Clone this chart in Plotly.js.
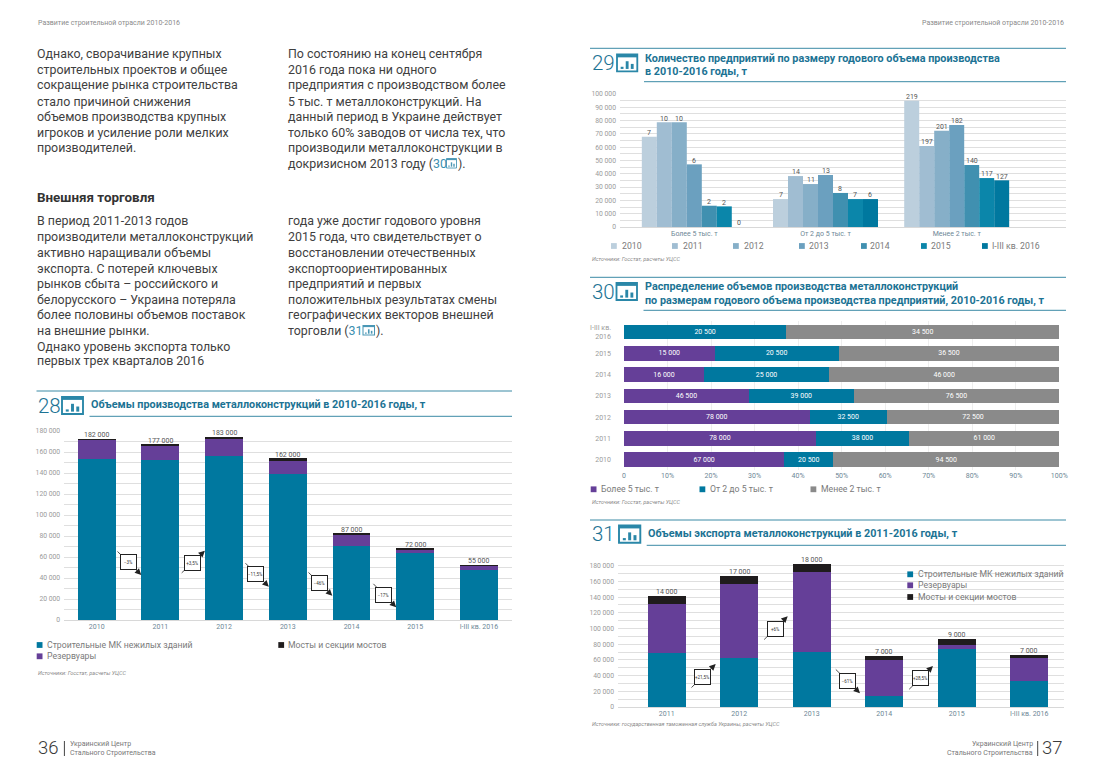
<!DOCTYPE html>
<html><head><meta charset="utf-8">
<script src="https://cdn.plot.ly/plotly-3.0.1.min.js"></script>
<style>
html,body{margin:0;padding:0;background:#fff;width:1100px;height:762px;overflow:hidden}
.layer{position:absolute;left:0;top:0;width:1100px;height:762px}
</style></head><body>
<div id="page" class="layer"></div>
<div id="c28" class="layer"></div>
<div id="c29" class="layer"></div>
<div id="c30" class="layer"></div>
<div id="c31" class="layer"></div>
<script>
// ---------- chart 28 data ----------
const years28 = ['2010','2011','2012','2013','2014','2015','I-III кв. 2016'];
const buildings28 = [153300,152400,156200,139000,70500,63800,47600];
const tanks28 = [18100,13600,15800,12400,10500,2900,3500];
const bridges28 = [1300,1600,2600,2600,1500,1600,1300];
const totals28Labels = ['182 000','177 000','183 000','162 000','87 000','72 000','55 000'];
const change28 = ['−3%','+3,5%','−11,5%','−46%','−17%'];
// ---------- chart 29 data ----------
const sizes29 = ['Более 5 тыс. т','От 2 до 5 тыс. т','Менее 2 тыс. т'];
const series29Names = ['2010','2011','2012','2013','2014','2015','I-III кв. 2016'];
const v2010 = [67900,21000,95000];
const v2011 = [78700,38300,60900];
const v2012 = [78700,32300,72400];
const v2013 = [47100,39100,76700];
const v2014 = [16000,25600,46600];
const v2015 = [15500,21000,36800];
const v2016 = [0,21000,35100];
const l2010 = ['7','7','219'];
const l2011 = ['10','14','197'];
const l2012 = ['10','11','201'];
const l2013 = ['6','13','182'];
const l2014 = ['2','8','140'];
const l2015 = ['2','7','117'];
const l2016 = ['0','6','127'];
// ---------- chart 30 data ----------
const years30 = ['2010','2011','2012','2013','2014','2015','I-III кв.<br>2016'];
const over5 = [67000,78000,78000,46500,16000,15000,0];
const from2to5 = [20500,38000,32500,39000,25000,20500,20500];
const under2 = [94500,61000,72500,76500,46000,36500,34500];
// ---------- chart 31 data ----------
const years31 = ['2011','2012','2013','2014','2015','I-III кв. 2016'];
const buildings31 = [68300,62000,70000,14000,73900,33500];
const tanks31 = [63300,95000,101500,45900,5500,28500];
const bridges31 = [9800,9800,10200,4600,7600,4600];
const totals31Labels = ['14 000','17 000','18 000','7 000','9 000','7 000'];
const change31 = ['+21,5%','+6%','−61%','+28,5%'];
const legendNames = ['Строительные МК нежилых зданий','Резервуары','Мосты и секции мостов'];

const W=1100,H=762;
const BLUE='#00789f',PURPLE='#653f98',BLACK='#1f1c1d',GREY='#8a8a8a';
const HEAD='#1c7394',RULE='#3b8aa5',TICK='#9b9b9b',XTICK='#6e8796',GRID='#dfdfdf';
const F='Roboto, sans-serif';
const blues=['#bccfdd','#a0bdd2','#86afc8','#6ba0bf','#4090b0','#0b86aa','#00789f'];
const X=x=>x/W, Y=y=>1-y/H;
const fmt=v=>String(v).replace(/\B(?=(\d{3})+$)/g,' ');
const sumUp=(...a)=>a[0].map((_,i)=>a.reduce((s,r)=>s+r[i],0));

function ann(text,x,y,o={}){
  return {xref:'paper',yref:'paper',x:X(x),y:Y(y),text,showarrow:false,
    xanchor:o.anchor||'left',yanchor:'middle',borderpad:0,
    font:{family:o.family||F,size:o.size||10,color:o.color||'#444',weight:o.weight||400,style:o.style||'normal'}};
}
function rect(x0,y0,x1,y1,fill,line,lw){
  return {type:'rect',xref:'paper',yref:'paper',x0:X(x0),x1:X(x1),y0:Y(y0),y1:Y(y1),
    fillcolor:fill,line:{color:line||fill,width:lw||0}};
}
function hline(y,x0,x1,c,w){
  return {type:'line',xref:'paper',yref:'paper',x0:X(x0),x1:X(x1),y0:Y(y),y1:Y(y),line:{color:c||RULE,width:w||1}};
}
function icon(x0,y0,x1,y1,c){
  c=c||'#2a87a8';
  const w=x1-x0,h=y1-y0,lw=Math.max(0.8,w*0.09),base=y1-h*0.14;
  return [
    rect(x0,y0,x1,y1,'#fff',c,lw),
    rect(x0,y0,x1,y0+h*0.17,c),
    rect(x0+w*0.18,base-h*0.13,x0+w*0.32,base,c),
    rect(x0+w*0.43,base-h*0.46,x0+w*0.57,base,c),
    rect(x0+w*0.68,base-h*0.30,x0+w*0.82,base,c)
  ];
}
function callout(text,tail,head,box){
  return [
    {xref:'paper',yref:'paper',x:X(head[0]),y:Y(head[1]),ax:tail[0]-head[0],ay:tail[1]-head[1],
     axref:'pixel',ayref:'pixel',text:' ',font:{size:1},showarrow:true,arrowhead:2,arrowsize:1.6,arrowwidth:0.8,arrowcolor:'#222',standoff:0},
    {xref:'paper',yref:'paper',x:X(box[0]),y:Y(box[1]),text,showarrow:false,width:15,height:14,
     bgcolor:'#fff',bordercolor:'#222',borderwidth:1,borderpad:0,xanchor:'center',yanchor:'middle',
     font:{family:F,size:4.5,color:'#333'}}
  ];
}
function header(num,numX,numY,ic,titleLines,titleX,topY,underY,x0,x1){
  const a=[ann(num,numX,numY,{size:20.5,color:HEAD,weight:300})];
  titleLines.forEach(t=>a.push(ann(t[0],titleX,t[1],{size:10.8,weight:700,color:HEAD})));
  const s=[hline(topY,x0,x1),hline(underY,titleX,x1)].concat(icon(...ic));
  return {a,s};
}
function legendItems(items,size){
  const a=[],s=[];
  items.forEach(it=>{
    s.push(rect(it.sx,it.y-2.9,it.sx+5.8,it.y+2.9,it.c));
    a.push(ann(it.t,it.tx,it.y,{size:size||8.7,color:'#7a7a7a'}));
  });
  return {a,s};
}
// value label sitting just above a bar top, placed through the chart's own scales
function barLabel(xPos,yVal,text,shift){
  return {xref:'x',yref:'y',x:xPos,y:yVal,text,showarrow:false,yshift:shift,xanchor:'center',yanchor:'middle',borderpad:0,
    font:{family:F,size:7,color:'#555'}};
}
const common=(ann,shp)=>({width:W,height:H,margin:{l:0,r:0,t:0,b:0,pad:0},paper_bgcolor:'rgba(0,0,0,0)',plot_bgcolor:'rgba(0,0,0,0)',
  showlegend:false,hovermode:false,annotations:ann,shapes:shp,font:{family:F}});
const yAxis=(dom,range,dt,mdt)=>({domain:[Y(dom[0]),Y(dom[1])],range,dtick:dt,tick0:0,
  tickfont:{size:6.8,color:TICK,family:F},ticks:'',ticklabelstandoff:3,
  showgrid:true,gridcolor:GRID,gridwidth:1,zeroline:false,showline:false,
  tickformat:',d',minor:{dtick:mdt,tick0:0,showgrid:true,gridcolor:GRID,gridwidth:1},anchor:'x'});
const catAxis=(x0,x1,c0,pitch)=>({type:'category',domain:[X(x0),X(x1)],range:[(x0-c0)/pitch,(x1-c0)/pitch],
  tickfont:{size:7,color:XTICK,family:F},ticks:'',showgrid:false,zeroline:false,showline:true,linecolor:'#d8d8d8',linewidth:1,anchor:'y',automargin:false});
const CFG={staticPlot:true,displayModeBar:false};
const sep={separators:'. '};

// ------------------------- page layer: running text -------------------------
const BODY={size:12.4,color:'#3f3f3f'};
const col1=['Однако, сворачивание крупных','строительных проектов и общее','сокращение рынка строительства','стало причиной снижения','объемов производства крупных','игроков и усиление роли мелких','производителей.'];
const col2=['По состоянию на конец сентября','2016 года пока ни одного','предприятия с производством более','5 тыс. т металлоконструкций. На','данный период в Украине действует','только 60% заводов от числа тех, что','производили металлоконструкции в','докризисном 2013 году (<span style="color:#3b8fb0">30</span>'];
const ys1=[53.3,69.3,85,101,116.3,132.3,147.7,163.3];
const col3=['В период 2011-2013 годов','производители металлоконструкций','активно наращивали объемы','экспорта. С потерей ключевых','рынков сбыта – российского и','белорусского – Украина потеряла','более половины объемов поставок','на внешние рынки.','Однако уровень экспорта только','первых трех кварталов 2016'];
const col4=['года уже достиг годового уровня','2015 года, что свидетельствует о','восстановлении отечественных','экспортоориентированных','предприятий и первых','положительных результатах смены','географических векторов внешней','торговли (<span style="color:#3b8fb0">31</span>'];
const ys2=[220.7,236.7,252,268,283.3,299.3,314.7,330,346,360.7];
const pageAnn=[], pageShp=[];
col1.forEach((t,i)=>pageAnn.push(ann(t,36,ys1[i],BODY)));
col2.forEach((t,i)=>pageAnn.push(ann(t,287,ys1[i],BODY)));
col3.forEach((t,i)=>pageAnn.push(ann(t,36,ys2[i],BODY)));
col4.forEach((t,i)=>pageAnn.push(ann(t,287,ys2[i],BODY)));
pageAnn.push(ann('Внешняя торговля',36,197,{size:13.4,weight:700,color:'#333'}));
pageAnn.push(ann(').',457,ys1[7],BODY));
pageAnn.push(ann(').',375,ys2[7],BODY));
pageShp.push(...icon(446.5,158.5,456.5,168,'#4a97b5'));
pageShp.push(...icon(363,325.5,374.5,335,'#4a97b5'));
pageAnn.push(ann('Развитие строительной отрасли 2010-2016',36.5,23.3,{size:7,color:'#8a8a8a'}));
pageAnn.push(ann('Развитие строительной отрасли 2010-2016',1065,23.3,{size:7,color:'#8a8a8a',anchor:'right'}));
const FOOT={size:7,color:'#777'};
pageAnn.push(ann('36',36.5,748,{size:18.5,color:'#3a3a3a',weight:300}));
pageAnn.push(ann('37',1064,748,{size:18.5,color:'#3a3a3a',weight:300,anchor:'right'}));
pageAnn.push(ann('Украинский Центр',69,743.5,FOOT));
pageAnn.push(ann('Стального Строительства',69,752.7,FOOT));
pageAnn.push(ann('Украинский Центр',1034,743.5,Object.assign({anchor:'right'},FOOT)));
pageAnn.push(ann('Стального Строительства',1034,752.7,Object.assign({anchor:'right'},FOOT)));
pageShp.push({type:'line',xref:'paper',yref:'paper',x0:X(64.4),x1:X(64.4),y0:Y(741),y1:Y(756),line:{color:'#444',width:1}});
pageShp.push({type:'line',xref:'paper',yref:'paper',x0:X(1037.7),x1:X(1037.7),y0:Y(741),y1:Y(756),line:{color:'#444',width:1}});
Plotly.newPlot('page',[],Object.assign(common(pageAnn,pageShp),{paper_bgcolor:'#fff',xaxis:{visible:false},yaxis:{visible:false}}),CFG);

const SRC={size:5.5,color:'#8a8a8a',style:'italic'};
function stackTraces(cats,a,b,c,names){
  return [
    {type:'bar',name:names[0],x:cats,y:a,marker:{color:BLUE,line:{width:0}}},
    {type:'bar',name:names[1],x:cats,y:b,marker:{color:PURPLE,line:{width:0}}},
    {type:'bar',name:names[2],x:cats,y:c,marker:{color:BLACK,line:{width:0}}}
  ];
}

// ------------------------- chart 28 -------------------------
{
  const h=header('28',36.5,406,[62,397,83,414],[['Объемы производства металлоконструкций в 2010-2016 годы, т',404]],89.5,391,416.3,36.5,512);
  const l=legendItems([
    {t:legendNames[0],sx:36.7,tx:46,y:645,c:BLUE},
    {t:legendNames[1],sx:36.7,tx:46,y:656.3,c:PURPLE},
    {t:legendNames[2],sx:278.3,tx:286.7,y:645,c:BLACK}]);
  const calls=[].concat(
    callout(change28[0],[116,550],[141.3,575],[128.5,561.7]),
    callout(change28[1],[180.2,574.3],[204.9,550.7],[192,562.7]),
    callout(change28[2],[244,561.7],[268.8,586.7],[255.6,574.3]),
    callout(change28[3],[307,571],[332.3,595.7],[319.8,583.3]),
    callout(change28[4],[371.9,582.3],[396.2,607.3],[383.4,594.7]));
  const tot=sumUp(buildings28,tanks28,bridges28);
  const labs=totals28Labels.map((t,i)=>barLabel(i,tot[i],t,3.5));
  const layout=common([...h.a,...l.a,ann('Источники: Госстат, расчеты УЦСС',36.5,673.3,SRC),...calls,...labs],[...h.s,...l.s]);
  Object.assign(layout,{barmode:'stack',bargap:0.405,xaxis:catAxis(64.2,512,96.7,63.7),yaxis:yAxis([620,431],[0,180000],20000,10000)},sep);
  Plotly.newPlot('c28',stackTraces(years28,buildings28,tanks28,bridges28,legendNames),layout,CFG);
}

// ------------------------- chart 29 -------------------------
{
  const h=header('29',590.7,63,[617,54.5,637.3,71.3],[['Количество предприятий по размеру годового объема производства',58],['в 2010-2016 годы, т',71.3]],644,48.3,81.7,590,1066);
  const lx=[[611,620.7],[672,682],[733,743],[799,808],[861,869],[921,930],[982,991]];
  const l=legendItems(series29Names.map((t,i)=>({t,sx:lx[i][0],tx:lx[i][1],y:246,c:blues[i]})));
  const vals=[v2010,v2011,v2012,v2013,v2014,v2015,v2016], labs=[l2010,l2011,l2012,l2013,l2014,l2015,l2016];
  const traces=vals.map((v,i)=>({type:'bar',name:series29Names[i],x:sizes29,y:v,marker:{color:blues[i],line:{width:0}}}));
  const barW=0.8/7, lab=[];
  vals.forEach((v,s)=>v.forEach((d,c)=>lab.push(barLabel(c+(s-3)*barW,d,labs[s][c],3.7))));
  const layout=common([...h.a,...l.a,ann('Источники: Госстат, расчеты УЦСС',591,258.5,SRC),...lab],[...h.s,...l.s]);
  Object.assign(layout,{barmode:'group',bargap:0.2,bargroupgap:0,xaxis:catAxis(620,1066,694.3,131.2),yaxis:yAxis([227,94],[0,100000],10000,5000)},sep);
  Plotly.newPlot('c29',traces,layout,CFG);
}

// ------------------------- chart 30 -------------------------
{
  const h=header('30',590.7,291.7,[616.5,283,637,300],[['Распределение объемов производства металлоконструкций',286.7],['по размерам годового объема производства предприятий, 2010-2016 годы, т',300]],643.5,277.3,310.3,590,1066);
  const names=['Более 5 тыс. т','От 2 до 5 тыс. т','Менее 2 тыс. т'];
  const l=legendItems([
    {t:names[0],sx:590.7,tx:600,y:489.3,c:PURPLE},
    {t:names[1],sx:699.5,tx:709,y:489.3,c:BLUE},
    {t:names[2],sx:810.5,tx:820,y:489.3,c:GREY}]);
  const mk=(v,i,c)=>({type:'bar',orientation:'h',name:names[i],y:years30,x:v,text:v.map(d=>d?fmt(d):''),textposition:'inside',
    insidetextanchor:'middle',textangle:0,constraintext:'none',textfont:{family:F,size:7,color:'#fff'},marker:{color:c,line:{width:0}}});
  const layout=common([...h.a,...l.a,ann('Источники: Госстат, расчеты УЦСС',591,501.7,SRC)],[...h.s,...l.s]);
  Object.assign(layout,{barmode:'stack',barnorm:'percent',bargap:0.31,
    xaxis:{domain:[X(624),X(1059.3)],range:[0,100],tickvals:[0,10,20,30,40,50,60,70,80,90,100],
      ticktext:['0','10%','20%','30%','40%','50%','60%','70%','80%','90%','100%'],tickfont:{size:7,color:XTICK,family:F},
      showgrid:true,gridcolor:'#eeeeee',zeroline:false,showline:false,ticks:'',anchor:'y'},
    yaxis:{type:'category',domain:[Y(470.3),Y(321.4)],range:[-0.5,6.5],tickfont:{size:7,color:TICK,family:F},ticks:'',
      ticklabelstandoff:12,showgrid:false,zeroline:false,showline:false,anchor:'x'}});
  Plotly.newPlot('c30',[mk(over5,0,PURPLE),mk(from2to5,1,BLUE),mk(under2,2,GREY)],layout,CFG);
}

// ------------------------- chart 31 -------------------------
{
  const h=header('31',590.5,534.3,[619,525.5,640.3,542.7],[['Объемы экспорта металлоконструкций в 2011-2016 годы, т',533.3]],646.7,520,545.3,590,1066);
  const l=legendItems([
    {t:legendNames[0],sx:907.3,tx:916.7,y:574.3,c:BLUE},
    {t:legendNames[1],sx:907.3,tx:916.7,y:585.3,c:PURPLE},
    {t:legendNames[2],sx:907.3,tx:916.7,y:597,c:BLACK}]);
  const calls=[].concat(
    callout(change31[0],[690,689],[715.7,664],[702.3,676.7]),
    callout(change31[1],[762.7,641],[787.7,616.3],[775,628.7]),
    callout(change31[2],[834.3,668],[860,693.3],[847,680.7]),
    callout(change31[3],[907.7,690.7],[933,666],[920.3,678.3]));
  const tot=sumUp(buildings31,tanks31,bridges31);
  const labs=totals31Labels.map((t,i)=>barLabel(i,tot[i],t,4));
  const layout=common([...h.a,...l.a,ann('Источники: государственная таможенная служба Украины, расчеты УЦСС',591,723.7,SRC),...calls,...labs],[...h.s,...l.s]);
  Object.assign(layout,{barmode:'stack',bargap:0.48,xaxis:catAxis(618,1064,666.7,72.5),yaxis:yAxis([707,561.8],[0,185000],20000,10000)},sep);
  Plotly.newPlot('c31',stackTraces(years31,buildings31,tanks31,bridges31,legendNames),layout,CFG);
}
</script></body></html>
